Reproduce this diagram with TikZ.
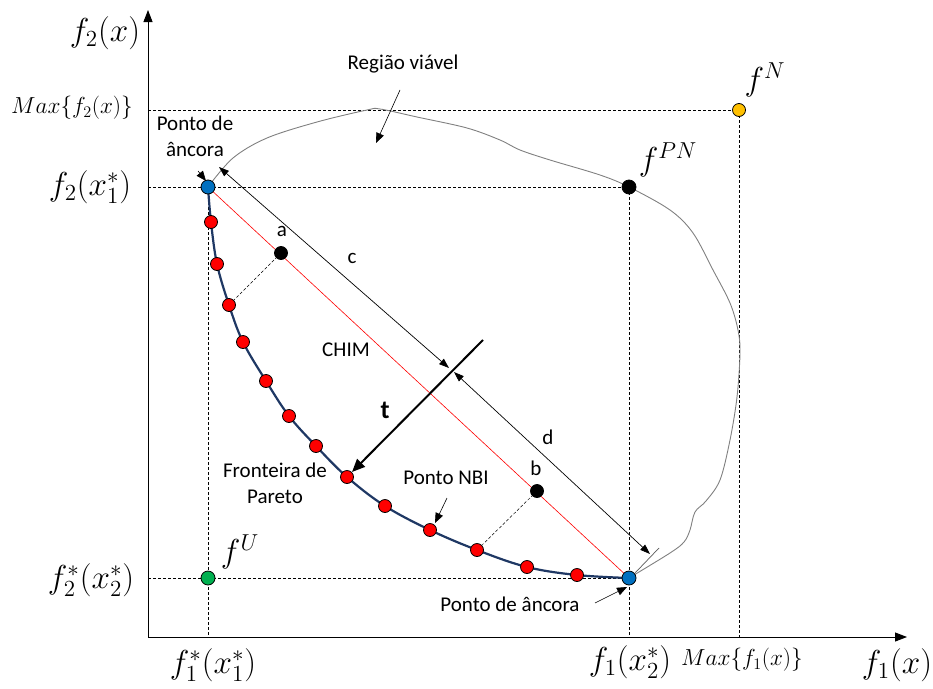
\RequirePackage{fix-cm}
\documentclass[tikz,border=0pt]{standalone}
\usepackage{fontspec}
\setmainfont{Carlito}
\usetikzlibrary{arrows.meta}
\definecolor{redpt}{RGB}{255,0,0}
\definecolor{bluept}{RGB}{0,112,192}
\definecolor{greenpt}{RGB}{0,176,80}
\definecolor{orangept}{RGB}{255,192,0}
\definecolor{navy}{RGB}{31,56,100}
\tikzset{
  dot/.style={circle,draw=black,line width=0.8pt,inner sep=0pt,minimum size=13pt},
  redd/.style={dot,fill=redpt},
  blued/.style={dot,fill=bluept,minimum size=14pt},
  blackd/.style={dot,fill=black,minimum size=14pt},
  guide/.style={line width=0.6pt,dash pattern=on 3pt off 2pt},
  lbl/.style={font=\fontsize{21}{26}\selectfont,inner sep=0pt},
  mlbl/.style={font=\fontsize{20.74}{24}\selectfont,inner sep=0pt,scale=1.6},
  slbl/.style={font=\fontsize{20.74}{24}\selectfont,inner sep=0pt,scale=1.12},
  tip/.style={-{Triangle[length=10pt,width=8pt]}},
  dtip/.style={{Triangle[length=10pt,width=7pt]}-{Triangle[length=10pt,width=7pt]}},
}
\begin{document}
\begin{tikzpicture}[x=1pt,y=-1pt]
\useasboundingbox (0,0) rectangle (933,688);
% axes
\coordinate (O) at (148,637);
\coordinate (Ytop) at (148,10);
\coordinate (Xend) at (907,637);
\draw[line width=0.9pt,-{Triangle[length=12pt,width=9pt]}] (O) -- (Ytop);
\draw[line width=0.9pt,-{Triangle[length=12pt,width=9pt]}] (O) -- (Xend);
% key coordinates
\coordinate (A1) at (208,187);
\coordinate (A2) at (629,578);
\coordinate (FU) at (208,578);
\coordinate (FN) at (739,110);
\coordinate (FPN) at (629,187);
\coordinate (ym) at (148,110);
\coordinate (y1) at (148,187);
\coordinate (y2) at (148,578);
\coordinate (x1) at (208,637);
\coordinate (x2) at (629,637);
\coordinate (xm) at (739,637);
% guides
\draw[guide] (ym) -- (FN);
\draw[guide] (y1) -- (FPN);
\draw[guide] (y2) -- (A2);
\draw[guide] (A1) -- (x1);
\draw[guide] (FPN) -- (x2);
\draw[guide] (FN) -- (xm);
% feasible region
\draw[gray,line width=0.9pt] plot[smooth,tension=0.55] coordinates {(208,187) (233,158) (267,138) (317,122) (367,110) (380,109) (417,117) (467,128) (500,140) (520,150) (550,160) (600,175) (629,187) (670,210) (693,233) (713,270) (730,303) (738,330) (740,353) (737,397) (730,440) (720,480) (706,501) (695,512) (690,530) (684,542) (670,553) (629,578)};
% CHIM line
\draw[red,line width=0.6pt] (A1) -- (A2);
% Pareto points
\coordinate (p1) at (211,222);
\coordinate (p2) at (217,264);
\coordinate (p3) at (229,305);
\coordinate (p4) at (243,342);
\coordinate (p5) at (266,381);
\coordinate (p6) at (289,416);
\coordinate (p7) at (316,446);
\coordinate (p8) at (347,477);
\coordinate (p9) at (385,506);
\coordinate (p10) at (430,530);
\coordinate (p11) at (477,550);
\coordinate (p12) at (527,567);
\coordinate (p13) at (577,575);
\draw[navy,line width=2.2pt] plot[smooth,tension=0.6] coordinates {(A1) (p1) (p2) (p3) (p4) (p5) (p6) (p7) (p8) (p9) (p10) (p11) (p12) (p13) (A2)};
% points a, b
\coordinate (a) at (281,253);
\coordinate (b) at (537,491);
\draw[guide,line width=0.5pt] (a) -- (p3);
\draw[guide,line width=0.5pt] (b) -- (p11);
% c and d dimension arrows
\coordinate (c1) at (219,167);
\coordinate (c2) at (449,368);
\coordinate (d1) at (454,372);
\coordinate (d2) at (650,554);
\draw[line width=0.7pt,dtip] (c1) -- (c2);
\draw[line width=0.7pt,dtip] (d1) -- (d2);
\coordinate (tk1) at (635,573);
\coordinate (tk2) at (659,548);
\draw[gray!70!black,line width=0.7pt] (tk1) -- (tk2);
% t arrow
\coordinate (t1) at (483,340);
\coordinate (t2) at (352,472);
\draw[line width=2pt,-{Triangle[length=13pt,width=11pt]}] (t1) -- (t2);
% dots
\foreach \i in {1,...,13} \node[redd] at (p\i) {};
\node[blued] (nA1) at (A1) {};
\node[blued] (nA2) at (A2) {};
\node[dot,fill=greenpt,minimum size=14pt] (nFU) at (FU) {};
\node[dot,fill=orangept] (nFN) at (FN) {};
\node[blackd] (nFPN) at (FPN) {};
\node[blackd,minimum size=13pt] (na) at (a) {};
\node[blackd,minimum size=13pt] (nb) at (b) {};
% labels
\node[lbl] (la) at (282,231) {a};
\node[lbl] (lb) at (536,468) {b};
\node[lbl] (lc) at (352,258) {c};
\node[lbl] (ld) at (548,437) {d};
\node[lbl] (lchim) at (346,350) {CHIM};
\node[font=\fontsize{26}{28}\selectfont\bfseries,inner sep=0pt] (lt) at (385,410) {t};
\node[lbl] (lreg) at (403,64) {Região viável};
\coordinate (r1) at (400,90);
\coordinate (r2) at (376,143);
\draw[line width=0.6pt,tip] (r1) -- (r2);
\node[lbl,align=center] (lanc1) at (195,136) {Ponto de\\âncora};
\coordinate (an1a) at (198,171);
\coordinate (an1b) at (206,181);
\draw[line width=0.6pt,tip] (an1a) -- (an1b);
\node[lbl] (lanc2) at (510,604) {Ponto de âncora};
\coordinate (an2a) at (595,603);
\coordinate (an2b) at (627,587);
\draw[line width=0.6pt,tip] (an2a) -- (an2b);
\node[lbl] (lnbi) at (446,478) {Ponto NBI};
\coordinate (nbi1) at (447,498);
\coordinate (nbi2) at (435,523);
\draw[line width=0.6pt,tip] (nbi1) -- (nbi2);
\node[lbl,align=center] (lfront) at (275,483) {Fronteira de\\Pareto};
% math labels
\node[mlbl] (lf2) at (105,33) {$f_2(x)$};
\node[slbl] (lmax2) at (72,108) {$Max\{f_2(x)\}$};
\node[mlbl] (lf2x1) at (90,187) {$f_2(x_1^*)$};
\node[mlbl] (lf2s) at (91,580) {$f_2^*(x_2^*)$};
\node[mlbl] (lf1s) at (213,665) {$f_1^*(x_1^*)$};
\node[mlbl] (lf1x2) at (630,662) {$f_1(x_2^*)$};
\node[slbl] (lmax1) at (742,660) {$Max\{f_1(x)\}$};
\node[mlbl] (lf1) at (897,665) {$f_1(x)$};
\node[mlbl] (lfN) at (765,80) {$f^N$};
\node[mlbl] (lfPN) at (668,160) {$f^{PN}$};
\node[mlbl] (lfU) at (240,552) {$f^U$};
\end{tikzpicture}
\end{document}
